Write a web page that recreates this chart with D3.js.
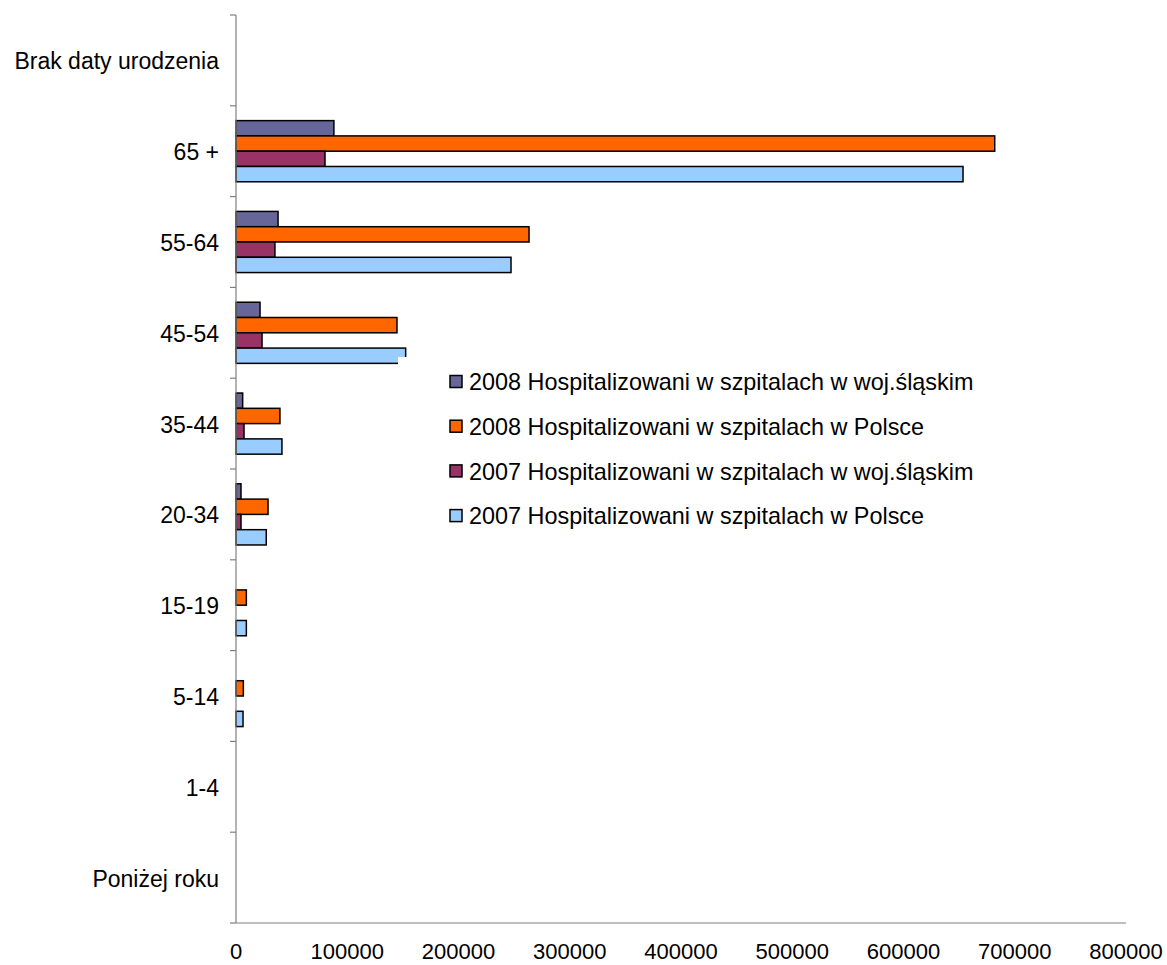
<!DOCTYPE html>
<html><head><meta charset="utf-8">
<script src="https://cdn.jsdelivr.net/npm/d3@7"></script>
<style>body{margin:0;background:#fff}svg{display:block}text{font-family:"Liberation Sans",Arial,sans-serif;fill:#000}</style>
</head><body>
<script>
const categories = ["Brak daty urodzenia","65 +","55-64","45-54","35-44","20-34","15-19","5-14","1-4","Poniżej roku"];
const seriesNames = [
  "2008 Hospitalizowani w szpitalach w woj.śląskim",
  "2008 Hospitalizowani w szpitalach w Polsce",
  "2007 Hospitalizowani w szpitalach w woj.śląskim",
  "2007 Hospitalizowani w szpitalach w Polsce"
];
const colors = ["#666699","#FF6600","#993366","#99CCFF"];
const s2008Slask  = [0, 88000, 37800, 21600, 6000, 4500, 0, 0, 0, 0];
const s2008Polska = [0, 682000, 263400, 144700, 39500, 28800, 9300, 6600, 0, 0];
const s2007Slask  = [0, 80000, 35000, 23400, 7200, 4500, 0, 0, 0, 0];
const s2007Polska = [0, 653500, 247200, 152500, 41300, 27200, 9300, 6300, 0, 0];
const xTicks = [0,100000,200000,300000,400000,500000,600000,700000,800000];

const series = [s2008Slask, s2008Polska, s2007Slask, s2007Polska];
const W = 1167, H = 965;
const L = 236, R = 1126, T = 15, B = 923;
const svg = d3.select("body").append("svg").attr("width", W).attr("height", H);

const x = d3.scaleLinear().domain([0, 800000]).range([L, R]);
const y = d3.scaleBand().domain(categories).range([T, B]).padding(0);
const inner = d3.scaleBand().domain(d3.range(4)).range([0, y.bandwidth()]).paddingInner(0).paddingOuter(0.97);

// bars
categories.forEach((c, i) => {
  const g = svg.append("g").attr("transform", `translate(0,${y(c)})`);
  series.forEach((s, k) => {
    const v = s[i];
    if (!v) return;
    g.append("rect")
      .attr("x", x(0)).attr("y", inner(k))
      .attr("width", x(v) - x(0)).attr("height", inner.bandwidth())
      .attr("fill", colors[k]).attr("stroke", "#000").attr("stroke-width", 1.5);
  });
});

// y axis
svg.append("line").attr("x1", L).attr("x2", L).attr("y1", T).attr("y2", B).attr("stroke", "#808080").attr("stroke-width", 1.2);
categories.concat([null]).forEach((c, i) => {
  const yy = T + i * y.step();
  svg.append("line").attr("x1", L - 6).attr("x2", L).attr("y1", yy).attr("y2", yy).attr("stroke", "#808080").attr("stroke-width", 1.2);
});
categories.forEach(c => {
  svg.append("text").attr("x", 219).attr("y", y(c) + y.bandwidth() / 2 + 1).attr("dy", "0.35em")
    .attr("text-anchor", "end").style("font-size", "23px").text(c);
});

// x axis
svg.append("line").attr("x1", L).attr("x2", R).attr("y1", B).attr("y2", B).attr("stroke", "#808080").attr("stroke-width", 1.2);
xTicks.forEach(t => {
  svg.append("text").attr("x", x(t)).attr("y", 959).attr("text-anchor", "middle").style("font-size", "22px").text(t);
});

// legend
const lg = svg.append("g").attr("transform", "translate(398,357)");
lg.append("rect").attr("x", 0).attr("y", 0).attr("width", 600).attr("height", 180).attr("fill", "#fff");
seriesNames.forEach((n, k) => {
  const cy = 382 - 357 + k * 44.7;
  lg.append("rect").attr("x", 52).attr("y", cy - 6.5).attr("width", 12).attr("height", 12)
    .attr("fill", colors[k]).attr("stroke", "#000").attr("stroke-width", 1.5);
  lg.append("text").attr("x", 71).attr("y", cy).attr("dy", "0.35em").style("font-size", "23.4px").text(n);
});
</script>
</body></html>
